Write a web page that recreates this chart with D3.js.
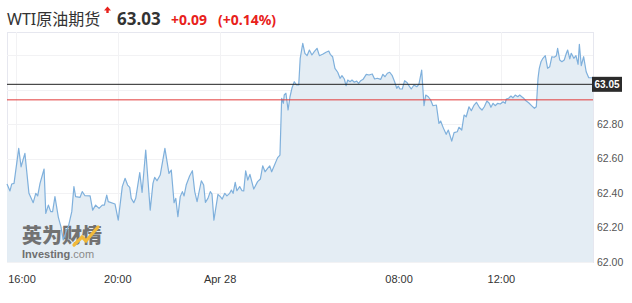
<!DOCTYPE html>
<html><head><meta charset="utf-8">
<script src="https://cdn.jsdelivr.net/npm/d3@7"></script>
<style>
html,body{margin:0;padding:0;background:#fff;}
svg{display:block;}
</style></head>
<body><svg id="c" width="632" height="303"></svg>
<script>
const bars = [0,1.4,2.2,3.3,5.5,6.6,8.4,10.3,12.3,13.5,14.4,15.5,17.4,18.2,19.4,20.5,21.4,22.5,24.1,25.3,26.4,28.0,28.8,30.4,31.4,32.2,34.3,35.3,36.6,39.0,40.2,41.6,43.2,44.7,45.7,46.8,47.5,50.7,52.2,54.1,55.4,
56.6,57.6,58.3,59.5,60.4,62.3,63.4,65.1,67.2,68.5,69.3,70.4,71.9,74.1,76.0,77.1,78.4,79.2,80.2,81.3,82.3,83.1,84.1,85.7,87.0,88.1,89.2,91.2,92.3,93.1,94.3,95.4,96.2,97.1,99.0,100.1,101.0,102.2,103.2,104.5,105.3,106.1,107.1,107.9,109.2,110.3,
111.1,112.0,113.0,114.0,115.8,117.6,118.9,120.0,121.1,122.3,123.3,124.2,125.4,127.0,128.1,128.9,129.7,130.1,130.9,131.9,132.8,133.7,134.8,135.9,136.9,137.6,138.8,139.8,140.8,141.9,143.1,144.2,145.5,146.6,148.1,149.7,151.0,151.7,152.8,153.9,155.2,156.3,157.2,158.3,159.1,159.9,161.0,161.9,163.0,164.1,165.0,
166.0,167.1,168.6,169.9,171.4,172.5,173.8,175.4,176.4,177.4,178.5,179.6,180.8,181.9,182.9,183.6,184.4,185.5,186.6,187.8,188.6,189.7,191.0,192.3,193.3,194.6,195.7,196.5,197.7,198.8,199.9,201.5,202.7,203.5,204.7,206.1,207.1,208.7,209.8,211.3,212.1,213.4,214.5,215.5,216.8,217.9,219.2,220.3,
221.8,222.9,224.0,225.2,226.3,227.1,228.1,229.1,230.3,231.5,232.8,233.8,234.3,235.4,236.5,237.4,238.5,239.7,240.6,241.7,242.5,243.7,244.8,246.4,247.5,248.4,249.2,249.8,250.6,251.5,252.6,253.7,254.7,255.7,256.8,257.8,258.4,259.4,260.4,261.5,262.5,263.1,264.1,264.8,266.0,267.0,268.0,268.6,269.5,270.6,271.8,273.0,274.1,275];

const prices = [62.452,62.412,62.452,62.456,62.659,62.552,62.630,62.398,62.344,62.398,62.383,62.456,62.539,62.282,62.330,62.292,62.292,62.379,62.259,62.205,62.128,62.186,62.205,62.292,62.437,62.379,62.375,62.408,62.384,62.383,62.301,62.330,62.311,62.330,62.330,62.388,62.350,62.336,62.243,62.437,62.485,
62.446,62.433,62.369,62.344,62.369,62.518,62.404,62.649,62.301,62.456,62.491,62.471,62.504,62.659,62.514,62.533,62.344,62.369,62.263,62.379,62.408,62.383,62.446,62.499,62.529,62.408,62.350,62.471,62.446,62.346,62.369,62.408,62.394,62.243,62.392,62.379,62.365,62.398,62.383,62.398,62.417,62.398,62.462,62.413,62.437,62.413,
62.412,62.528,62.475,62.508,62.423,62.466,62.481,62.558,62.523,62.543,62.557,62.523,62.558,62.605,62.620,62.949,62.920,62.968,62.978,62.881,62.958,63.007,63.045,63.026,63.026,63.181,63.268,63.210,63.196,63.229,63.200,63.219,63.239,63.196,63.204,63.216,63.223,63.204,63.190,63.123,63.100,63.065,63.080,63.061,63.022,63.055,63.045,63.055,63.042,63.049,63.036,
63.051,63.059,63.088,63.084,63.090,63.061,63.065,63.059,63.088,63.074,63.094,63.100,63.080,63.045,63.007,63.020,63.003,63.003,63.051,63.039,63.022,63.003,63.026,63.016,63.030,63.113,62.906,62.968,62.958,62.939,62.906,62.910,62.804,62.817,62.779,62.740,62.765,62.701,62.750,62.755,62.781,62.765,62.852,62.842,62.900,62.877,62.910,62.926,
62.894,62.881,62.900,62.933,62.920,62.897,62.920,62.906,62.920,62.916,62.929,62.920,62.945,62.949,62.962,62.952,62.968,62.958,62.968,62.957,62.949,62.933,62.923,62.904,62.891,62.900,63.065,63.123,63.161,63.181,63.196,63.123,63.132,63.190,63.187,63.196,63.239,63.171,63.161,63.171,63.210,63.229,63.177,63.210,63.181,63.196,63.146,63.262,63.138,63.190,63.103,63.068,63.068,63.067];

const xTickBars = [4, 52, 100, 184, 232];
const xTickLabels = ["16:00", "20:00", "Apr 28", "08:00", "12:00"];
const yGridValues = [62.0, 62.2, 62.4, 62.6, 62.8, 63.0, 63.2];
const yLabelValues = [62.0, 62.2, 62.4, 62.6, 62.8];
const titleName = "WTI原油期货";
const lastPrice = 63.03;
const changeAbs = "+0.09";
const changePct = "(+0.14%)";
const prevClose = 62.94;
const tagLabel = "63.05";

const svg = d3.select("#c");
const L = 7, R = 593, T = 32, B = 262;
const x = d3.scaleLinear().domain([0, d3.max(bars)]).range([L, R]);
const y = d3.scaleLinear().domain([62.0, 63.2]).range([B, 55]);
const data = bars.map((b, i) => ({b, p: prices[i]}));

// plot background & border
svg.append("rect").attr("x", L + 0.5).attr("y", T + 0.5).attr("width", R - L).attr("height", B - T)
  .attr("fill", "#fff").attr("stroke", "#e6e7ef").attr("stroke-width", 1);

// grid
const g = svg.append("g");
g.selectAll("line.h").data(yGridValues).join("line")
  .attr("x1", L).attr("x2", R).attr("y1", d => Math.round(y(d)) + 0.5).attr("y2", d => Math.round(y(d)) + 0.5)
  .attr("stroke", "#f2f2f4").attr("stroke-width", 1);
g.selectAll("line.v").data(xTickBars).join("line")
  .attr("y1", T).attr("y2", B).attr("x1", d => Math.round(x(d)) + 0.5).attr("x2", d => Math.round(x(d)) + 0.5)
  .attr("stroke", "#f2f2f4").attr("stroke-width", 1);

// area + line
const area = d3.area().x(d => x(d.b)).y0(y(62.0)).y1(d => y(d.p));
svg.append("path").datum(data).attr("d", area).attr("fill", "#e3ecf3").attr("fill-opacity", 0.95);
const line = d3.line().x(d => x(d.b)).y(d => y(d.p));

// watermark
const wm = svg.append("g");
wm.append("text").attr("x", 22).attr("y", 243).text("英为财情")
  .attr("font-family", "'Noto Sans CJK SC', sans-serif").attr("font-weight", "900").attr("font-size", 20)
  .attr("fill", "#727272").attr("letter-spacing", 0);
wm.append("path").attr("d", "M74,245 L82,237 L86,241 L98,227")
  .attr("fill", "none").attr("stroke", "#f1b93a").attr("stroke-width", 3.2).attr("stroke-linecap", "round");
const wt = wm.append("text").attr("x", 22).attr("y", 258).attr("font-family", "'Liberation Sans', Arial, sans-serif").attr("font-size", 11).attr("fill", "#6f6f6f");
wt.append("tspan").attr("font-weight", "bold").text("Investing");
wt.append("tspan").attr("fill", "#8a8a8a").text(".com");

svg.append("path").datum(data).attr("d", line).attr("fill", "none")
  .attr("stroke", "#7fb0dc").attr("stroke-width", 1.2).attr("stroke-linejoin", "round");

// reference lines
svg.append("line").attr("x1", L).attr("x2", R).attr("y1", y(prevClose)).attr("y2", y(prevClose))
  .attr("stroke", "#e23a3a").attr("stroke-width", 1);
svg.append("line").attr("x1", L).attr("x2", R).attr("y1", y(lastPrice)).attr("y2", y(lastPrice))
  .attr("stroke", "#222").attr("stroke-width", 1);

// y labels
svg.append("g").selectAll("text").data(yLabelValues).join("text")
  .attr("x", 597).attr("y", d => y(d)).attr("dy", "0.35em")
  .attr("font-family", "'Liberation Sans', Arial, sans-serif").attr("font-size", 10.5).attr("fill", "#555")
  .text(d => d3.format(".2f")(d));

// price tag
const ty = y(lastPrice);
svg.append("rect").attr("x", 592).attr("y", ty - 7.5).attr("width", 30).attr("height", 15).attr("fill", "#2b2b2b");
svg.append("text").attr("x", 607).attr("y", ty).attr("dy", "0.35em").attr("text-anchor", "middle")
  .attr("font-family", "'Liberation Sans', Arial, sans-serif").attr("font-size", 10).attr("font-weight", "bold")
  .attr("fill", "#fff").text(tagLabel);

// x labels
svg.append("g").selectAll("text").data(xTickBars).join("text")
  .attr("x", (d, i) => Math.max(x(d), 22)).attr("y", 279).attr("dy", "0.35em").attr("text-anchor", "middle")
  .attr("font-family", "'Liberation Sans', Arial, sans-serif").attr("font-size", 11).attr("fill", "#333")
  .text((d, i) => xTickLabels[i]);

// title
svg.append("text").attr("x", 7).attr("y", 25).text(titleName)
  .attr("font-family", "'Noto Sans', 'Noto Sans CJK SC', sans-serif").attr("font-size", 16).attr("fill", "#333");
svg.append("path").attr("d", "M107.5,6.5 L111,10.5 L104,10.5 Z M106.3,10.5 L108.7,10.5 L108.7,13 L106.3,13 Z")
  .attr("fill", "#e8211b");
svg.append("text").attr("x", 117).attr("y", 25).text(d3.format(".2f")(lastPrice))
  .attr("font-family", "'Noto Sans', sans-serif").attr("font-weight", "bold").attr("font-size", 17).attr("fill", "#333");
svg.append("text").attr("x", 171).attr("y", 25).text(changeAbs)
  .attr("font-family", "'Noto Sans', sans-serif").attr("font-weight", "bold").attr("font-size", 14).attr("fill", "#e8211b");
svg.append("text").attr("x", 218).attr("y", 25).text(changePct)
  .attr("font-family", "'Noto Sans', sans-serif").attr("font-weight", "bold").attr("font-size", 14).attr("fill", "#e8211b");
</script></body></html>
